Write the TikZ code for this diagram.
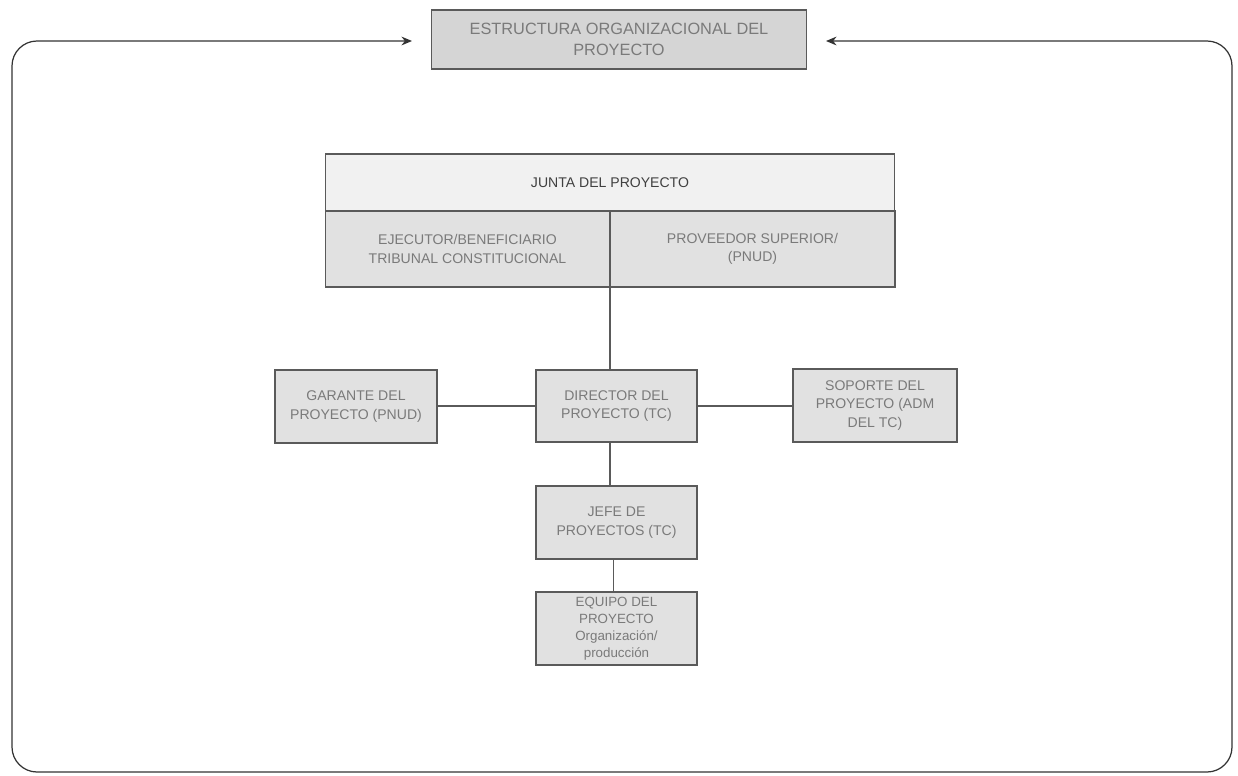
\documentclass[tikz,border=0pt]{standalone}
\usepackage{fontspec}
\setmainfont{Liberation Sans}
\usetikzlibrary{arrows.meta}
\definecolor{boxfill}{HTML}{E1E1E1}
\definecolor{titlefill}{HTML}{D5D5D5}
\definecolor{juntafill}{HTML}{F1F1F1}
\definecolor{edge}{HTML}{5A5A5A}
\definecolor{txt}{HTML}{7A7A7A}
\tikzset{
  orgbox/.style={draw=edge, line width=0.6pt, fill=boxfill, inner sep=0pt, align=center,
     text=txt, font=\fontsize{8}{10.5}\selectfont},
  link/.style={draw=edge, line width=0.6pt},
  framearrow/.style={draw=black!80, line width=0.7pt, rounded corners=0.5cm,
     {Stealth[length=6pt,width=5pt]}-{Stealth[length=6pt,width=5pt]}}
}
\begin{document}
\begin{tikzpicture}[x=0.02cm,y=-0.02cm]
\useasboundingbox (0,0) rectangle (1238,775);
% title
\node[orgbox, fill=titlefill, minimum width=7.52cm, minimum height=1.18cm,
      font=\fontsize{9.3}{12}\selectfont] (title) at (619,39.5) {ESTRUCTURA ORGANIZACIONAL DEL\\PROYECTO};
% frame
\coordinate (fl) at (412,41);
\coordinate (fr) at (826,41);
\draw[framearrow] (fl) -- (12,41) -- (12,772) -- (1232,772) -- (1232,41) -- (fr);
% junta
\node[orgbox, fill=juntafill, minimum width=11.4cm, minimum height=1.14cm, text=black!75] (junta) at (610,182.5) {JUNTA DEL PROYECTO};
\node[orgbox, minimum width=5.7cm, minimum height=1.52cm] (ejec) at (467.5,249) {EJECUTOR/BENEFICIARIO\\TRIBUNAL CONSTITUCIONAL};
\node[orgbox, minimum width=5.7cm, minimum height=1.52cm] (prov) at (752.5,249) {PROVEEDOR SUPERIOR/\\(PNUD)};
% middle row
\node[orgbox, minimum width=3.22cm, minimum height=1.44cm] (dir) at (616.5,406) {DIRECTOR DEL\\PROYECTO (TC)};
\node[orgbox, minimum width=3.24cm, minimum height=1.46cm] (gar) at (356,406.5) {GARANTE DEL\\PROYECTO (PNUD)};
\node[orgbox, minimum width=3.28cm, minimum height=1.46cm] (sop) at (875,405.5) {SOPORTE DEL\\PROYECTO (ADM\\DEL TC)};
\node[orgbox, minimum width=3.22cm, minimum height=1.46cm] (jefe) at (616.5,522.5) {JEFE DE\\PROYECTOS (TC)};
\node[orgbox, minimum width=3.22cm, minimum height=1.46cm, font=\fontsize{7.6}{9.6}\selectfont] (equipo) at (616.5,628.5) {EQUIPO DEL\\PROYECTO\\Organización/\\producción};
% connectors
\coordinate (jb) at (610,211);
\draw[link] (jb) -- (jb |- dir.north);
\draw[link] (gar.east |- dir.west) -- (dir.west);
\draw[link] (dir.east) -- (sop.west |- dir.east);
\draw[link] (dir.south -| jb) -- (jefe.north -| jb);
\draw[link] ([xshift=-1.5pt]jefe.south) -- ([xshift=-1.5pt]equipo.north);
\end{tikzpicture}
\end{document}
